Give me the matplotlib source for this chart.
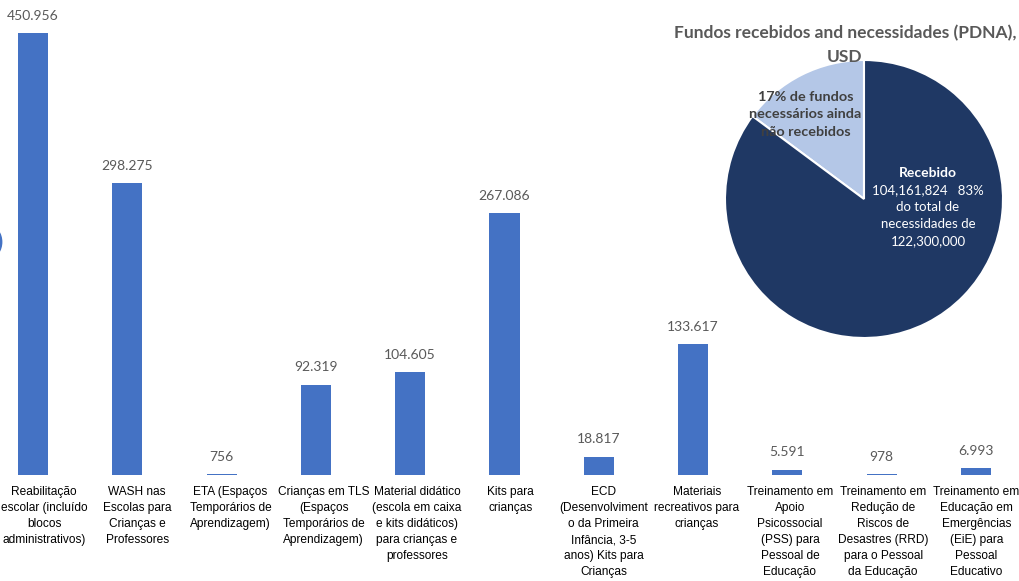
import matplotlib
matplotlib.use("Agg")
from matplotlib import pyplot as plt
from matplotlib.patches import Ellipse

# bar data
categories = [
    "Reabilitação\nescolar (incluído\nblocos\nadministrativos)",
    "WASH nas\nEscolas para\nCrianças e\nProfessores",
    "ETA (Espaços\nTemporários de\nAprendizagem)",
    "Crianças em TLS\n(Espaços\nTemporários de\nAprendizagem)",
    "Material didático\n(escola em caixa\ne kits didáticos)\npara crianças e\nprofessores",
    "Kits para\ncrianças",
    "ECD\n(Desenvolviment\no da Primeira\nInfância, 3-5\nanos) Kits para\nCrianças",
    "Materiais\nrecreativos para\ncrianças",
    "Treinamento em\nApoio\nPsicossocial\n(PSS) para\nPessoal de\nEducação",
    "Treinamento em\nRedução de\nRiscos de\nDesastres (RRD)\npara o Pessoal\nda Educação",
    "Treinamento em\nEducação em\nEmergências\n(EiE) para\nPessoal\nEducativo",
]
values = [450956, 298275, 756, 92319, 104605, 267086, 18817, 133617, 5591, 978, 6993]
value_labels = ["450.956", "298.275", "756", "92.319", "104.605", "267.086",
                "18.817", "133.617", "5.591", "978", "6.993"]

# pie data
pie_total = 122300000
pie_received = 104161824
pie_values = [pie_total - pie_received, pie_received]
pie_title = "Fundos recebidos and necessidades (PDNA),\nUSD"

W, H = 1020, 581
fig = plt.figure(figsize=(W / 100, H / 100), dpi=100)

# bar axes, slot ~94.3px, first slot starts off-canvas
slot = 94.3
left_px = 33 - slot / 2
base_px = 475
ax = fig.add_axes([left_px / W, (H - base_px) / H, slot * 11 / W, base_px / H])
x = list(range(len(values)))
ax.bar(x, values, width=0.32, color="#4472C4")
ax.set_xlim(-0.5, 10.5)
ax.set_ylim(0, 450956 * 475 / 442)
for s in ax.spines.values():
    s.set_visible(False)
ax.set_yticks([])
ax.set_xticks([])
for i, v in enumerate(values):
    ax.annotate(value_labels[i], (i, v), xytext=(0, 8), textcoords="offset points",
                ha="center", va="bottom", fontsize=10, color="#595959",
                family="Lato")
    # category labels drift slightly right of the bars in the original
    dx = (11 - 1.05 * i) * 0.72
    ax.annotate(categories[i], (i, 0), xytext=(dx, -8), textcoords="offset points",
                ha="center", va="top", fontsize=8.6, color="black",
                family="Liberation Sans", linespacing=1.45)

# little blue arc cut by the left edge
fig.add_artist(Ellipse((-10 / W, 1 - 242 / H), 22 / W, 30 / H, transform=fig.transFigure,
                       facecolor="none", edgecolor="#4472C4", linewidth=2))

# pie inset
r_px = 139
cx, cy = 864, 199
pax = fig.add_axes([(cx - r_px) / W, (H - cy - r_px) / H, 2 * r_px / W, 2 * r_px / H])
pax.pie(pie_values, colors=["#B4C7E7", "#1F3864"], startangle=90,
        wedgeprops=dict(edgecolor="white", linewidth=1.5))
pax.set_xlim(-1, 1)
pax.set_ylim(-1, 1)
pax.text(-0.42, 0.61, "17% de fundos\nnecessários ainda\nnão recebidos", ha="center",
         va="center", fontsize=10.4, fontweight="bold", color="#404040", family="Lato",
         linespacing=1.55)
pax.text(0.46, 0.19, "Recebido", ha="center", va="center", fontsize=10,
         fontweight="bold", color="white", family="Lato")
pax.text(0.46, -0.12, "104,161,824   83%\ndo total de\nnecessidades de\n122,300,000",
         ha="center", va="center", fontsize=9.5, color="white", family="Lato",
         linespacing=1.52)

fig.text(845 / W, 1 - 45 / H, pie_title, ha="center", va="center", fontsize=12.5,
         fontweight="bold", color="#595959", family="Lato", linespacing=1.55)

fig.savefig("out.png", dpi=100)
